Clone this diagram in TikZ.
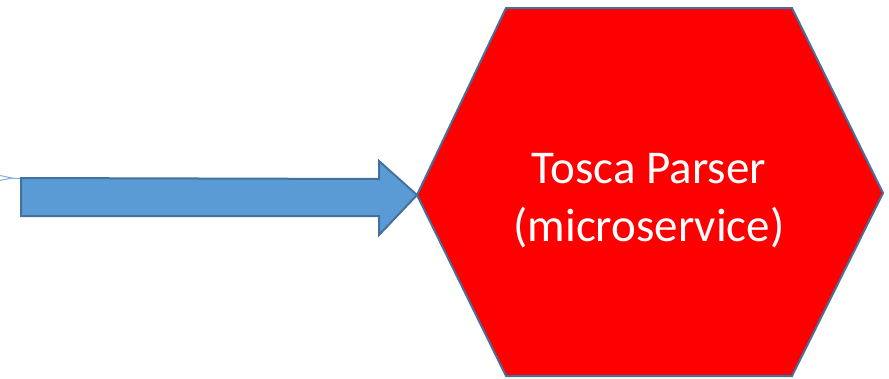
\documentclass[tikz,border=0pt]{standalone}
\usepackage{fontspec}
\setmainfont{Carlito}
\definecolor{arrowfill}{HTML}{5B9BD5}
\definecolor{arrowline}{HTML}{41719C}
\definecolor{hexfill}{HTML}{FF0000}
\definecolor{thinblue}{HTML}{7FAEDC}
\begin{document}
\begin{tikzpicture}[x=1pt,y=-1pt,
  blockarrow/.style={fill=arrowfill,draw=arrowline,line width=2pt,line join=miter},
  hexshape/.style={fill=hexfill,draw=arrowline,line width=2pt,line join=miter},
  hexlabel/.style={text=white,font=\fontsize{47}{58}\selectfont,align=center},
  thinline/.style={draw=thinblue,line width=1pt}]
\useasboundingbox (0,0) rectangle (889,378);
% hexagon corners
\coordinate (hexW)  at (417,195);
\coordinate (hexNW) at (506,8);
\coordinate (hexNE) at (792,8);
\coordinate (hexE)  at (883,193);
\coordinate (hexSE) at (792,376);
\coordinate (hexSW) at (506,376);
\draw[hexshape] (hexW) -- (hexNW) -- (hexNE) -- (hexE) -- (hexSE) -- (hexSW) -- cycle;
\node[hexlabel] (parser) at (649,201) {Tosca Parser\\(microservice)};
% thin incoming line at the left edge
\coordinate (stub) at (12,178);
\coordinate (tail) at (21,178);
\draw[thinline] (0,175.5) -- (stub) -- (0,180.5);
\draw[thinline] (stub) -- (tail) -- (21,217);
% block arrow pointing at the hexagon
\draw[blockarrow] (tail) -- (379,179) -- (379,161) -- (hexW) -- (379,235) -- (379,216) -- (21,216) -- cycle;
\end{tikzpicture}
\end{document}
